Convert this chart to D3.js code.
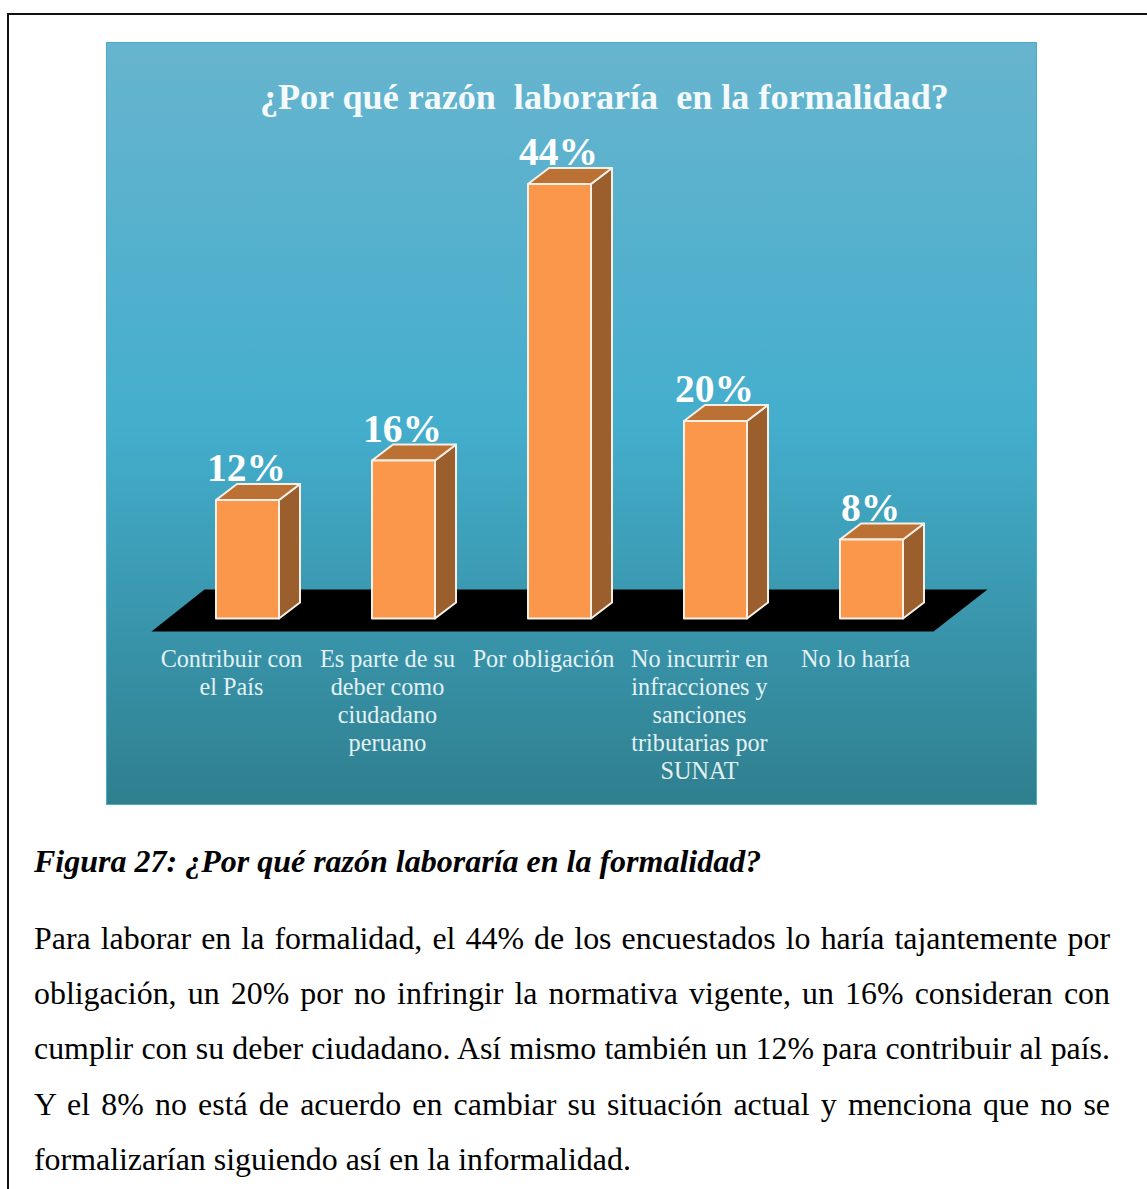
<!DOCTYPE html>
<html lang="en">
<head>
  <meta charset="UTF-8">
  <title>Figura 27</title>
  <style>
    html, body { margin: 0; padding: 0; background: #fff; overflow: hidden; }
    svg { display: block; }
    text { font-family: "Liberation Serif", serif; white-space: pre; }
  </style>
</head>
<body>
  <svg id="svg" width="1147" height="1189"></svg>
  <script src="https://d3js.org/d3.v7.min.js"></script>
  <script>
    const chartTitle = '¿Por qué razón  laboraría  en la formalidad?'
    const categories = ['Contribuir con', 'Es parte de su', 'Por obligación', 'No incurrir en', 'No lo haría']
    const categoryLines = [
      ['Contribuir con', 'el País'],
      ['Es parte de su', 'deber como', 'ciudadano', 'peruano'],
      ['Por obligación'],
      ['No incurrir en', 'infracciones y', 'sanciones', 'tributarias por', 'SUNAT'],
      ['No lo haría']
    ]
    const values = [12, 16, 44, 20, 8]
    const caption = 'Figura 27: ¿Por qué razón laboraría en la formalidad?'
    const bodyLines = [
      'Para laborar en la formalidad, el 44% de los encuestados lo haría tajantemente por',
      'obligación, un 20% por no infringir la normativa vigente, un 16% consideran con',
      'cumplir con su deber ciudadano. Así mismo también un 12% para contribuir al país.',
      'Y el 8% no está de acuerdo en cambiar su situación actual y menciona que no se',
      'formalizarían siguiendo así en la informalidad.'
    ]

    const svg = d3.select('#svg')
    const baseY = 618.5
    const barW = 63
    const depthX = 21
    const depthY = 16

    const x = d3.scaleBand().domain(categories).range([153.5, 933.5])
    const y = d3.scaleLinear().domain([0, 44]).range([baseY, 184])

    // page frame, only top and left show
    svg.append('path')
      .attr('d', 'M8,1189V14H1147')
      .attr('fill', 'none')
      .attr('stroke', '#111')
      .attr('stroke-width', 2)

    const grad = svg.append('defs').append('linearGradient')
      .attr('id', 'bg').attr('x1', 0).attr('x2', 0).attr('y1', 0).attr('y2', 1)
    grad.append('stop').attr('offset', '0').attr('stop-color', '#67b4ce')
    grad.append('stop').attr('offset', '0.5').attr('stop-color', '#44aecd')
    grad.append('stop').attr('offset', '1').attr('stop-color', '#2f7f8e')

    svg.append('rect')
      .attr('x', 106.5).attr('y', 42.5).attr('width', 930).attr('height', 762)
      .attr('fill', 'url(#bg)')
      .attr('stroke', '#4bacc6')

    svg.append('text')
      .attr('x', 260).attr('y', 108.5)
      .attr('font-size', 36.1).attr('font-weight', 'bold')
      .attr('fill', '#f4fafc')
      .text(chartTitle)

    // floor
    const floorL = x.range()[0]
    const floorR = x.range()[1]
    svg.append('path')
      .attr('d', `M${floorL - 2},631.5H${floorR}L${floorR + 54},589.5H${floorL + 51}Z`)
      .attr('fill', '#000')

    const barLeft = d => x(d) + x.bandwidth() / 2 - barW / 2 + 16

    const bars = svg.selectAll('g.bar')
      .data(categories.map((c, i) => ({ c, v: values[i] })))
      .enter().append('g').attr('class', 'bar')
      .attr('stroke', '#f6efe6').attr('stroke-width', 2).attr('stroke-linejoin', 'round')

    bars.append('path') // side
      .attr('fill', '#9a5f2d')
      .attr('d', d => {
        const r = barLeft(d.c) + barW
        return `M${r},${y(d.v)}l${depthX},${-depthY}V${baseY - depthY}l${-depthX},${depthY}Z`
      })
    bars.append('path') // top
      .attr('fill', '#bb7134')
      .attr('d', d => {
        const l = barLeft(d.c)
        return `M${l},${y(d.v)}l${depthX},${-depthY}h${barW}l${-depthX},${depthY}Z`
      })
    bars.append('rect') // front
      .attr('fill', '#fb974a')
      .attr('x', d => barLeft(d.c))
      .attr('y', d => y(d.v))
      .attr('width', barW)
      .attr('height', d => baseY - y(d.v))

    svg.selectAll('text.val')
      .data(categories.map((c, i) => ({ c, v: values[i] })))
      .enter().append('text').attr('class', 'val')
      .attr('x', d => barLeft(d.c) + barW / 2 - 1)
      .attr('y', d => y(d.v) - 19)
      .attr('text-anchor', 'middle')
      .attr('font-size', 39.5).attr('font-weight', 'bold')
      .attr('fill', '#fff')
      .text(d => d.v + '%')

    // category axis, labels broken over lines by hand
    const axis = svg.append('g')
      .attr('transform', 'translate(0,631)')
      .call(d3.axisBottom(x).tickSize(0))
    axis.select('.domain').remove()
    axis.selectAll('.tick text').each(function (d, i) {
      const t = d3.select(this)
      t.text(null)
        .attr('y', 0).attr('dy', null)
        .attr('font-size', 24.2)
        .attr('font-family', '"Liberation Serif", serif')
        .attr('fill', '#e4f1f4')
      categoryLines[i].forEach((line, k) => {
        t.append('tspan').attr('x', 0).attr('y', 36 + k * 28).text(line)
      })
    })

    svg.append('text')
      .attr('x', 34).attr('y', 871.5)
      .attr('font-size', 32).attr('font-weight', 'bold').attr('font-style', 'italic')
      .attr('fill', '#000')
      .text(caption)

    // paragraph, justified by widening word gaps
    const bodyW = 1076
    bodyLines.forEach((line, i) => {
      const t = svg.append('text')
        .attr('x', 34)
        .attr('y', [949, 1004, 1059, 1115, 1170][i])
        .attr('font-size', 31.9)
        .attr('fill', '#000')
        .text(line)
      if (i < bodyLines.length - 1) {
        const gaps = line.split(' ').length - 1
        const extra = (bodyW - t.node().getComputedTextLength()) / gaps
        t.attr('word-spacing', extra)
      }
    })
  </script>
</body>
</html>
